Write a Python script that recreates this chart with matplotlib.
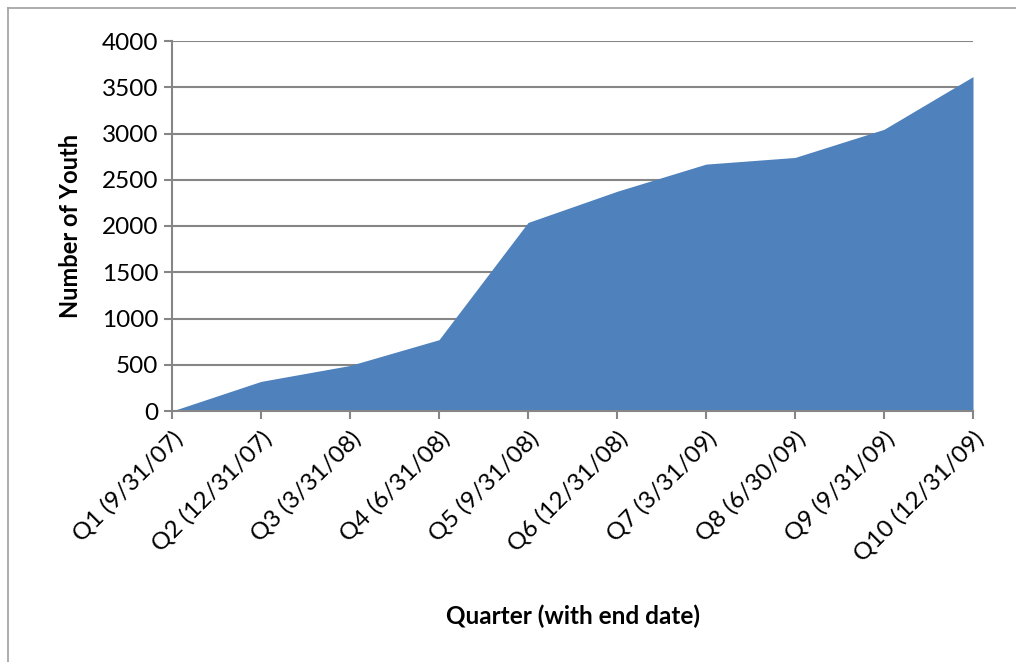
import matplotlib
matplotlib.use("Agg")
import matplotlib.pyplot as plt
from matplotlib.lines import Line2D

# dados
quarters = ["Q1 (9/31/07)", "Q2 (12/31/07)", "Q3 (3/31/08)", "Q4 (6/31/08)", "Q5 (9/31/08)",
            "Q6 (12/31/08)", "Q7 (3/31/09)", "Q8 (6/30/09)", "Q9 (9/31/09)", "Q10 (12/31/09)"]
youth = [0, 320, 492, 771, 2038, 2375, 2669, 2741, 3045, 3615]
y_ticks = [0, 500, 1000, 1500, 2000, 2500, 3000, 3500, 4000]

plt.rcParams["font.family"] = ["Lato", "DejaVu Sans"]
cinza = "#868686"

fig = plt.figure(figsize=(10.16, 6.62), dpi=100)
ax = fig.add_axes([172/1016, 1 - 411/662, (973 - 172)/1016, (411 - 41)/662])

x = range(len(quarters))
ax.fill_between(x, youth, 0, color="#4F81BD", linewidth=0, zorder=3)

ax.set_xlim(0, len(quarters) - 1)
ax.set_ylim(0, 4000)
ax.set_yticks(y_ticks)
ax.set_yticklabels([str(v) for v in y_ticks], fontsize=17.5)
ax.set_xticks(list(x))
ax.set_xticklabels(quarters, rotation=45, ha="right", rotation_mode="anchor", fontsize=17.5)

ax.grid(axis="y", color=cinza, linewidth=1.5, zorder=1)
ax.set_axisbelow(True)
for lado in ["top", "right"]:
    ax.spines[lado].set_visible(False)
for lado in ["left", "bottom"]:
    ax.spines[lado].set_color(cinza)
    ax.spines[lado].set_linewidth(1.5)
    ax.spines[lado].set_zorder(4)
ax.tick_params(axis="both", color=cinza, width=1.5, length=6, pad=4)
ax.tick_params(axis="x", pad=6)

ax.set_ylabel("Number of Youth", fontsize=17, fontweight="bold", labelpad=14)
ax.set_xlabel("Quarter (with end date)", fontsize=17.5, fontweight="bold", labelpad=28)

# moldura externa
fig.add_artist(Line2D([8/1016, 8/1016], [0, 1 - 8/662], color="#a0a0a0", linewidth=1.2))
fig.add_artist(Line2D([8/1016, 1], [1 - 8/662, 1 - 8/662], color="#a0a0a0", linewidth=1.2))

fig.savefig("out.png", dpi=100)
